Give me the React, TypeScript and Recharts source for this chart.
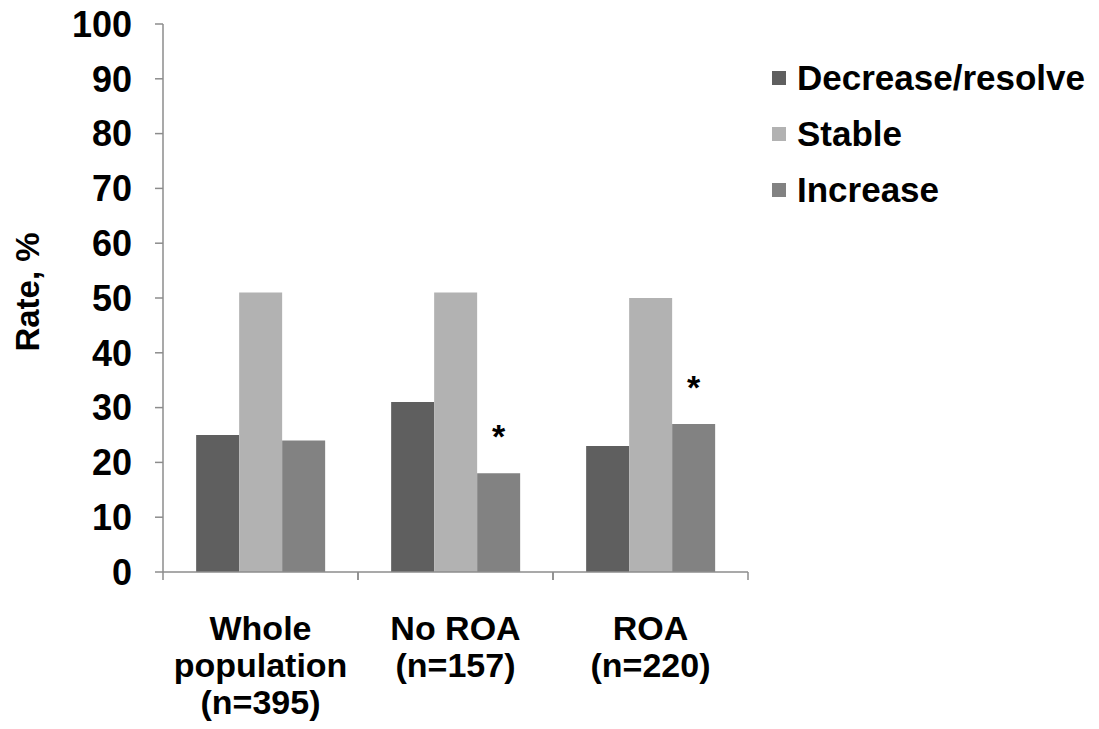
import React from 'react';
import { BarChart, Bar, XAxis, YAxis, LabelList } from 'recharts';

const categories = ['Whole population (n=395)', 'No ROA (n=157)', 'ROA (n=220)'];
const categoryLines = [
    ['Whole', 'population', '(n=395)'],
    ['No ROA', '(n=157)'],
    ['ROA', '(n=220)'],
];
const decreaseValues = [25, 31, 23];
const stableValues = [51, 51, 50];
const increaseValues = [24, 18, 27];
const increaseMarks = ['', '*', '*'];
const yTicks = [0, 10, 20, 30, 40, 50, 60, 70, 80, 90, 100];

const seriesNames = ['Decrease/resolve', 'Stable', 'Increase'];
const seriesKeys = ['decrease', 'stable', 'increase'];
const seriesColors = ['#5f5f5f', '#b2b2b2', '#828282'];

const FONT = '"Liberation Sans", Arial, sans-serif';
const AXIS = '#8c8c8c';

const chartData = categories.map((name, i) => ({
    name,
    decrease: decreaseValues[i],
    stable: stableValues[i],
    increase: increaseValues[i],
    mark: increaseMarks[i],
}));

const CategoryTick = (props: any) => {
    const { x, y, payload, index } = props;
    const half = payload && payload.offset ? payload.offset : 97.5;
    const lines = categoryLines[index] || [String(payload.value)];
    return (
        <g>
            <line x1={x - half} x2={x - half} y1={y} y2={y + 8} stroke={AXIS} strokeWidth={1.5} />
            <line x1={x + half} x2={x + half} y1={y} y2={y + 8} stroke={AXIS} strokeWidth={1.5} />
            {lines.map((line, i) => (
                <text
                    key={i}
                    x={x}
                    y={y + 68 + i * 37}
                    textAnchor="middle"
                    fontFamily={FONT}
                    fontWeight="bold"
                    fontSize={34}
                    fill="#000"
                >
                    {line}
                </text>
            ))}
        </g>
    );
};

const StarLabel = (props: any) => {
    const { x, y, width, index } = props;
    const mark = increaseMarks[index];
    if (!mark) return null;
    return (
        <text
            x={x + width / 2}
            y={y - 25}
            textAnchor="middle"
            fontFamily={FONT}
            fontWeight="bold"
            fontSize={34}
            fill="#000"
        >
            {mark}
        </text>
    );
};

const YLabel = (props: any) => {
    const { viewBox } = props;
    const cy = viewBox.y + viewBox.height / 2 - 6;
    const cx = 27;
    return (
        <text
            x={cx}
            y={cy}
            transform={`rotate(-90, ${cx}, ${cy})`}
            textAnchor="middle"
            dominantBaseline="central"
            fontFamily={FONT}
            fontWeight="bold"
            fontSize={33}
            fill="#000"
        >
            Rate, %
        </text>
    );
};

const App: React.FC = () => {
    return (
        <div style={{ position: 'absolute', left: 0, top: 0, width: 1099, height: 729, background: '#fff' }}>
            <BarChart
                width={1099}
                height={729}
                data={chartData}
                margin={{ top: 24, right: 351, bottom: 0, left: 0 }}
                barCategoryGap="17%"
                barGap={0}
            >
                <XAxis
                    dataKey="name"
                    height={157}
                    stroke={AXIS}
                    strokeWidth={1.5}
                    tickLine={false}
                    tickSize={0}
                    tickMargin={0}
                    interval={0}
                    tick={<CategoryTick />}
                />
                <YAxis
                    width={163}
                    domain={[0, 100]}
                    ticks={yTicks}
                    interval={0}
                    stroke={AXIS}
                    strokeWidth={1.5}
                    tickSize={8}
                    tickMargin={23}
                    tick={{ fill: '#000', fontSize: 36, fontWeight: 'bold', fontFamily: FONT }}
                    label={{ content: <YLabel /> }}
                />
                {seriesKeys.map((key, i) => (
                    <Bar key={key} dataKey={key} name={seriesNames[i]} fill={seriesColors[i]} isAnimationActive={false}>
                        {key === 'increase' && <LabelList dataKey="mark" content={<StarLabel />} />}
                    </Bar>
                ))}
            </BarChart>
            <div style={{ position: 'absolute', left: 772, top: 50, fontFamily: FONT }}>
                {seriesNames.map((name, i) => (
                    <div key={name} style={{ display: 'flex', alignItems: 'center', height: 56 }}>
                        <div style={{ width: 14, height: 14, background: seriesColors[i], marginRight: 11 }} />
                        <span style={{ fontSize: 35, fontWeight: 'bold', color: '#000', lineHeight: '40px' }}>{name}</span>
                    </div>
                ))}
            </div>
        </div>
    );
};

export default App;
